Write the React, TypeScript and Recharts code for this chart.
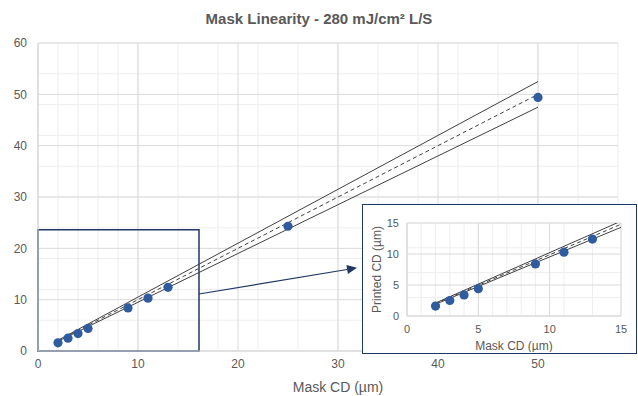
import React from "react";
import { ScatterChart, Scatter, XAxis, YAxis, CartesianGrid, ReferenceArea, ReferenceLine } from "recharts";

// measured points
const maskCD = [2, 3, 4, 5, 9, 11, 13, 25, 50];
const printedCD = [1.6, 2.5, 3.4, 4.4, 8.4, 10.3, 12.4, 24.3, 49.4];

// target line (dashed) and +/- limits, main chart
const fitX = [2, 50];
const upperY = [2.1, 52.5];
const nominalY = [2, 50];
const lowerY = [1.9, 47.5];

// same lines as they reach the edge of the inset
const insetFitX = [2, 15];
const insetUpperY = [2.1, 15.3];
const insetNominalY = [2, 14.8];
const insetLowerY = [1.9, 14.3];
const insetCount = 7;

// zoom box and arrow (data units)
const boxX = [0, 16.1];
const boxY = [0, 23.6];
const arrowFrom = [16.1, 11.1];
const arrowTo = [31.9, 16.2];

const mainXTicks = [0, 10, 20, 30, 40, 50];
const mainYTicks = [0, 10, 20, 30, 40, 50, 60];
const mainMinorX = Array.from({ length: 30 }, (_, i) => i * 2);
const mainMinorY = Array.from({ length: 31 }, (_, i) => i * 2);
const insetTicks = [0, 5, 10, 15];
const insetMinor = Array.from({ length: 16 }, (_, i) => i);

const title = "Mask Linearity - 280 mJ/cm² L/S";
const xLabel = "Mask CD (µm)";
const yLabelInset = "Printed CD (µm)";

const NAVY = "#203864";
const DOT = "#2e5c9e";
const TEXT = "#595959";
const FONT = "'Liberation Sans', Arial, sans-serif";

const pts = (xs: number[], ys: number[]) => xs.map((x, i) => ({ x, y: ys[i] }));
const measured = pts(maskCD, printedCD);

const Dot = (p: any) => <circle cx={p.cx} cy={p.cy} r={4.6} fill={DOT} />;
const NoShape = () => <g />;

const Arrow = (p: any) => {
  const { x1, y1, x2, y2 } = p;
  if (x1 == null) return null;
  const a = Math.atan2(y2 - y1, x2 - x1);
  const len = 10, w = 4.5;
  const bx = x2 - len * Math.cos(a), by = y2 - len * Math.sin(a);
  const nx = -Math.sin(a) * w, ny = Math.cos(a) * w;
  return (
    <g>
      <line x1={x1} y1={y1} x2={bx} y2={by} stroke={NAVY} strokeWidth={1.2} />
      <polygon points={`${x2},${y2} ${bx + nx},${by + ny} ${bx - nx},${by - ny}`} fill={NAVY} />
    </g>
  );
};

const lineStyle = { stroke: "#404040", strokeWidth: 1 };
const dashStyle = { stroke: "#404040", strokeWidth: 1, strokeDasharray: "4 3" };

export default function App() {
  return (
    <div style={{ position: "absolute", left: 0, top: 0, width: 638, height: 396, background: "#fff", fontFamily: FONT }}>
      <div style={{ position: "absolute", top: 10, left: 0, width: 638, textAlign: "center", fontWeight: "bold", fontSize: 15, color: TEXT }}>
        {title}
      </div>
      <ScatterChart width={638} height={396} margin={{ top: 43, right: 20, left: 0, bottom: 0 }}>
        <CartesianGrid stroke="#eeeeee" verticalValues={mainMinorX} horizontalValues={mainMinorY} />
        <CartesianGrid stroke="#d9d9d9" verticalValues={mainXTicks} horizontalValues={mainYTicks} />
        <XAxis
          type="number"
          dataKey="x"
          domain={[0, 58]}
          ticks={mainXTicks}
          height={45}
          axisLine={{ stroke: "#d9d9d9" }}
          tickLine={false}
          tickSize={4}
          tickMargin={4}
          tick={{ fill: TEXT, fontSize: 12, fontFamily: FONT }}
          label={{ value: xLabel, position: "insideBottom", offset: 4, dx: 10, fill: TEXT, fontSize: 14, fontFamily: FONT }}
        />
        <YAxis
          type="number"
          dataKey="y"
          domain={[0, 60]}
          ticks={mainYTicks}
          width={38}
          axisLine={{ stroke: "#d9d9d9" }}
          tickLine={false}
          tickSize={4}
          tickMargin={7}
          tick={{ fill: TEXT, fontSize: 12, fontFamily: FONT }}
        />
        <Scatter data={pts(fitX, upperY)} line={lineStyle} shape={NoShape} legendType="none" isAnimationActive={false} />
        <Scatter data={pts(fitX, nominalY)} line={dashStyle} shape={NoShape} legendType="none" isAnimationActive={false} />
        <Scatter data={pts(fitX, lowerY)} line={lineStyle} shape={NoShape} legendType="none" isAnimationActive={false} />
        <Scatter data={measured} shape={Dot} isAnimationActive={false} />
        <ReferenceArea x1={boxX[0]} x2={boxX[1]} y1={boxY[0]} y2={boxY[1]} fill="none" fillOpacity={0} stroke={NAVY} strokeWidth={1.5} strokeOpacity={1} />
        <ReferenceLine
          segment={[{ x: arrowFrom[0], y: arrowFrom[1] }, { x: arrowTo[0], y: arrowTo[1] }]}
          shape={Arrow}
        />
      </ScatterChart>

      <div
        style={{
          position: "absolute",
          left: 362,
          top: 204,
          width: 275,
          height: 150,
          boxSizing: "border-box",
          border: `1.5px solid ${NAVY}`,
          background: "#fff",
        }}
      >
        <ScatterChart width={272} height={147} margin={{ top: 18, right: 14, left: 0, bottom: 0 }}>
          <CartesianGrid stroke="#eeeeee" verticalValues={insetMinor} horizontalValues={insetMinor} />
          <CartesianGrid stroke="#d9d9d9" verticalValues={insetTicks} horizontalValues={insetTicks} />
          <XAxis
            type="number"
            dataKey="x"
            domain={[0, 15]}
            allowDataOverflow
            ticks={insetTicks}
            height={36}
            axisLine={{ stroke: "#d9d9d9" }}
            tickLine={false}
            tickSize={4}
            tickMargin={5}
            tick={{ fill: TEXT, fontSize: 11, fontFamily: FONT }}
            label={{ value: xLabel, position: "insideBottom", offset: 2, fill: TEXT, fontSize: 12, fontFamily: FONT }}
          />
          <YAxis
            type="number"
            dataKey="y"
            domain={[0, 15]}
            allowDataOverflow
            ticks={insetTicks}
            width={44}
            axisLine={{ stroke: "#d9d9d9" }}
            tickLine={false}
            tickSize={4}
            tickMargin={4}
            tick={{ fill: TEXT, fontSize: 11, fontFamily: FONT }}
            label={{ value: yLabelInset, angle: -90, position: "insideLeft", offset: 14, style: { textAnchor: "middle" }, fill: TEXT, fontSize: 12, fontFamily: FONT }}
          />
          <Scatter data={pts(insetFitX, insetUpperY)} line={lineStyle} shape={NoShape} legendType="none" isAnimationActive={false} />
          <Scatter data={pts(insetFitX, insetNominalY)} line={dashStyle} shape={NoShape} legendType="none" isAnimationActive={false} />
          <Scatter data={pts(insetFitX, insetLowerY)} line={lineStyle} shape={NoShape} legendType="none" isAnimationActive={false} />
          <Scatter data={measured.slice(0, insetCount)} shape={Dot} isAnimationActive={false} />
        </ScatterChart>
      </div>
    </div>
  );
}
